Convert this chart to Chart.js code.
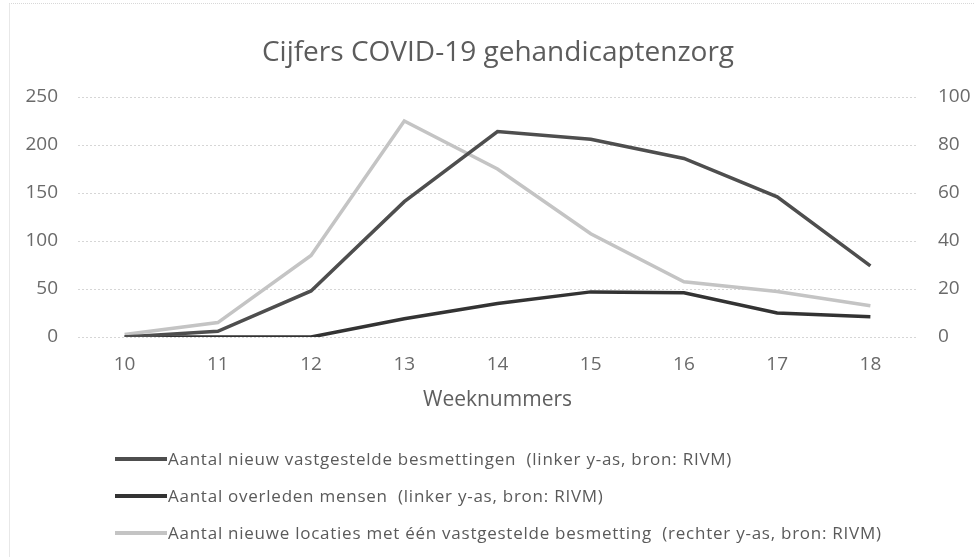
<!DOCTYPE html>
<html>
<head>
<meta charset="utf-8">
<script src="https://cdn.jsdelivr.net/npm/chart.js@4"></script>
<style>
  html, body { margin: 0; padding: 0; background: #fff; }
  #wrap { position: relative; width: 974px; height: 557px; }
  #frame { position: absolute; left: 9px; top: 3px; right: 0; bottom: 0; border-left: 1px solid #e8e8e8; border-top: 1px dotted #d8d8d8; }
  canvas { position: absolute; left: 0; top: 0; }
  #legend { position: absolute; left: 115px; top: 440px; font-family: "Open Sans", sans-serif; font-size: 17px; letter-spacing: 0.75px; color: #5a5a5a; }
  #legend div { height: 37px; display: flex; align-items: center; white-space: pre; }
  #legend span.sw { display: inline-block; width: 52px; height: 4px; margin-right: 1px; }
</style>
</head>
<body>
<div id="wrap">
  <div id="frame"></div>
  <canvas id="chart" width="974" height="557"></canvas>
  <div id="legend"></div>
</div>
<script>
const weeks = ["10", "11", "12", "13", "14", "15", "16", "17", "18"];
const besmettingen = [0, 6, 48, 141, 214, 206, 186, 146, 74];
const overleden = [0, 0, 0, 19, 35, 47, 46, 25, 21];
const locaties = [1, 6, 34, 90, 70, 43, 23, 19, 13];

const seriesLabels = [
  "Aantal nieuw vastgestelde besmettingen  (linker y-as, bron: RIVM)",
  "Aantal overleden mensen  (linker y-as, bron: RIVM)",
  "Aantal nieuwe locaties met één vastgestelde besmetting  (rechter y-as, bron: RIVM)"
];
const seriesColors = ["#4e4e4e", "#333333", "#c4c4c4"];

const tickFont = { family: "Open Sans", size: 19 };

const chart = new Chart(document.getElementById("chart").getContext("2d"), {
  type: "line",
  data: {
    labels: weeks,
    datasets: [
      { label: seriesLabels[0], data: besmettingen, yAxisID: "y", borderColor: seriesColors[0], borderWidth: 3.5 },
      { label: seriesLabels[1], data: overleden, yAxisID: "y", borderColor: seriesColors[1], borderWidth: 3.5 },
      { label: seriesLabels[2], data: locaties, yAxisID: "y1", borderColor: seriesColors[2], borderWidth: 3.5 }
    ]
  },
  options: {
    responsive: false,
    animation: false,
    layout: { padding: { left: 22, right: 0, top: 0, bottom: 144 } },
    elements: { point: { radius: 0 }, line: { tension: 0 } },
    plugins: {
      legend: { display: false },
      tooltip: { enabled: false },
      title: {
        display: true,
        text: "Cijfers COVID-19 gehandicaptenzorg",
        color: "#5c5c5c",
        font: { family: "Open Sans", size: 28, weight: "normal" },
        padding: { top: 36, bottom: 27.4 }
      }
    },
    scales: {
      x: {
        offset: true,
        grid: { display: false },
        border: { display: false },
        ticks: { color: "#6a6a6a", font: tickFont, padding: 8 },
        title: { display: true, text: "Weeknummers", color: "#5f5f5f", font: { family: "Open Sans", size: 21 }, padding: { top: 0, bottom: 0 } },
        afterFit: (s) => { s.height = 76; }
      },
      y: {
        position: "left",
        min: 0, max: 250,
        ticks: { stepSize: 50, color: "#6a6a6a", font: tickFont, padding: 20 },
        grid: { color: "#d6d6d6", drawTicks: false, lineWidth: 1 },
        border: { display: false, dash: [2, 2] },
        afterFit: (s) => { s.width = 56; }
      },
      y1: {
        position: "right",
        min: 0, max: 100,
        ticks: { stepSize: 20, color: "#6a6a6a", font: tickFont, padding: 21 },
        grid: { display: false, drawTicks: false },
        border: { display: false },
        afterFit: (s) => { s.width = 57; }
      }
    }
  }
});

const legend = document.getElementById("legend");
chart.data.datasets.forEach((ds) => {
  const row = document.createElement("div");
  const sw = document.createElement("span");
  sw.className = "sw";
  sw.style.background = ds.borderColor;
  row.appendChild(sw);
  row.appendChild(document.createTextNode(ds.label));
  legend.appendChild(row);
});
</script>
</body>
</html>
